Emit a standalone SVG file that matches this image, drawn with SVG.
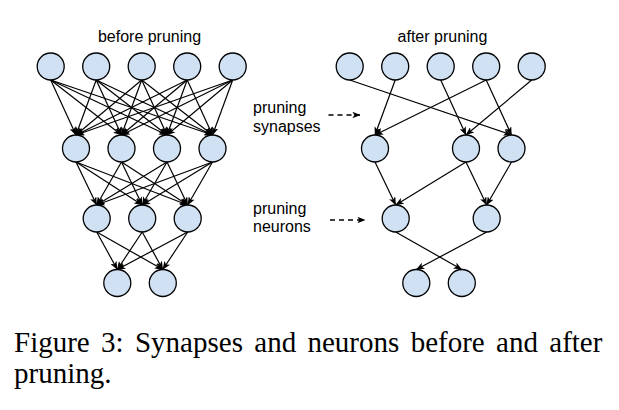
<svg xmlns="http://www.w3.org/2000/svg" width="619" height="410" viewBox="0 0 619 410">
<style>
.n{fill:#cfe1f3;stroke:#000;stroke-width:1.3}
.e{stroke:#000;stroke-width:1.2;fill:none;marker-end:url(#a)}
.d{stroke:#000;stroke-width:1.3;fill:none;stroke-dasharray:5 4;marker-end:url(#b)}
.t{font-family:"Liberation Sans",Arial,sans-serif;font-size:16px;fill:#000}
.c{font-family:"Liberation Serif","Times New Roman",serif;font-size:29px;fill:#000}
</style>
<defs>
<marker id="a" viewBox="0 0 10 8" refX="9.5" refY="4" markerWidth="8.5" markerHeight="6.8" orient="auto" markerUnits="userSpaceOnUse"><path d="M0,0 L10,4 L0,8 L2.5,4 z" fill="#000"/></marker>
<marker id="b" viewBox="0 0 10 8" refX="9.5" refY="4" markerWidth="8" markerHeight="6.4" orient="auto" markerUnits="userSpaceOnUse"><path d="M0,0 L10,4 L0,8 L2.5,4 z" fill="#000"/></marker>
</defs>
<text class="t" x="149.5" y="42" text-anchor="middle">before pruning</text>
<text class="t" x="442.5" y="42" text-anchor="middle">after pruning</text>
<text class="t" x="253" y="113">pruning</text>
<text class="t" x="253" y="131.5">synapses</text>
<text class="t" x="253" y="213.5">pruning</text>
<text class="t" x="253" y="231.5">neurons</text>
<g id="connectors">
<line class="d" x1="328.5" y1="115" x2="360" y2="115"/>
<line class="d" x1="330" y1="220" x2="365" y2="220"/>
<line class="e" x1="50.7" y1="80" x2="76" y2="135"/>
<line class="e" x1="50.7" y1="80" x2="121.5" y2="135"/>
<line class="e" x1="50.7" y1="80" x2="167" y2="135"/>
<line class="e" x1="50.7" y1="80" x2="212.5" y2="135"/>
<line class="e" x1="96.2" y1="80" x2="76" y2="135"/>
<line class="e" x1="96.2" y1="80" x2="121.5" y2="135"/>
<line class="e" x1="96.2" y1="80" x2="167" y2="135"/>
<line class="e" x1="96.2" y1="80" x2="212.5" y2="135"/>
<line class="e" x1="141.7" y1="80" x2="76" y2="135"/>
<line class="e" x1="141.7" y1="80" x2="121.5" y2="135"/>
<line class="e" x1="141.7" y1="80" x2="167" y2="135"/>
<line class="e" x1="141.7" y1="80" x2="212.5" y2="135"/>
<line class="e" x1="187.2" y1="80" x2="76" y2="135"/>
<line class="e" x1="187.2" y1="80" x2="121.5" y2="135"/>
<line class="e" x1="187.2" y1="80" x2="167" y2="135"/>
<line class="e" x1="187.2" y1="80" x2="212.5" y2="135"/>
<line class="e" x1="232.7" y1="80" x2="76" y2="135"/>
<line class="e" x1="232.7" y1="80" x2="121.5" y2="135"/>
<line class="e" x1="232.7" y1="80" x2="167" y2="135"/>
<line class="e" x1="232.7" y1="80" x2="212.5" y2="135"/>
<line class="e" x1="76" y1="162" x2="96.7" y2="205"/>
<line class="e" x1="76" y1="162" x2="142.2" y2="205"/>
<line class="e" x1="76" y1="162" x2="187.7" y2="205"/>
<line class="e" x1="121.5" y1="162" x2="96.7" y2="205"/>
<line class="e" x1="121.5" y1="162" x2="142.2" y2="205"/>
<line class="e" x1="121.5" y1="162" x2="187.7" y2="205"/>
<line class="e" x1="167" y1="162" x2="96.7" y2="205"/>
<line class="e" x1="167" y1="162" x2="142.2" y2="205"/>
<line class="e" x1="167" y1="162" x2="187.7" y2="205"/>
<line class="e" x1="212.5" y1="162" x2="96.7" y2="205"/>
<line class="e" x1="212.5" y1="162" x2="142.2" y2="205"/>
<line class="e" x1="212.5" y1="162" x2="187.7" y2="205"/>
<line class="e" x1="96.7" y1="232" x2="117.3" y2="269.5"/>
<line class="e" x1="96.7" y1="232" x2="162.8" y2="269.5"/>
<line class="e" x1="142.2" y1="232" x2="117.3" y2="269.5"/>
<line class="e" x1="142.2" y1="232" x2="162.8" y2="269.5"/>
<line class="e" x1="187.7" y1="232" x2="117.3" y2="269.5"/>
<line class="e" x1="187.7" y1="232" x2="162.8" y2="269.5"/>
<line class="e" x1="349.7" y1="80" x2="511.5" y2="135"/>
<line class="e" x1="395.2" y1="80" x2="375" y2="135"/>
<line class="e" x1="440.7" y1="80" x2="466" y2="135"/>
<line class="e" x1="486.2" y1="80" x2="375" y2="135"/>
<line class="e" x1="486.2" y1="80" x2="511.5" y2="135"/>
<line class="e" x1="531.7" y1="80" x2="466" y2="135"/>
<line class="e" x1="375" y1="162" x2="395.7" y2="205"/>
<line class="e" x1="466" y1="162" x2="395.7" y2="205"/>
<line class="e" x1="466" y1="162" x2="486.7" y2="205"/>
<line class="e" x1="511.5" y1="162" x2="486.7" y2="205"/>
<line class="e" x1="395.7" y1="232" x2="461.8" y2="269.5"/>
<line class="e" x1="486.7" y1="232" x2="416.3" y2="269.5"/>
</g>
<g id="before-l1-1"><circle class="n" cx="50.7" cy="66.5" r="13.5"/></g>
<g id="before-l1-2"><circle class="n" cx="96.2" cy="66.5" r="13.5"/></g>
<g id="before-l1-3"><circle class="n" cx="141.7" cy="66.5" r="13.5"/></g>
<g id="before-l1-4"><circle class="n" cx="187.2" cy="66.5" r="13.5"/></g>
<g id="before-l1-5"><circle class="n" cx="232.7" cy="66.5" r="13.5"/></g>
<g id="before-l2-1"><circle class="n" cx="76" cy="148.5" r="13.5"/></g>
<g id="before-l2-2"><circle class="n" cx="121.5" cy="148.5" r="13.5"/></g>
<g id="before-l2-3"><circle class="n" cx="167" cy="148.5" r="13.5"/></g>
<g id="before-l2-4"><circle class="n" cx="212.5" cy="148.5" r="13.5"/></g>
<g id="before-l3-1"><circle class="n" cx="96.7" cy="218.5" r="13.5"/></g>
<g id="before-l3-2"><circle class="n" cx="142.2" cy="218.5" r="13.5"/></g>
<g id="before-l3-3"><circle class="n" cx="187.7" cy="218.5" r="13.5"/></g>
<g id="before-l4-1"><circle class="n" cx="117.3" cy="283" r="13.5"/></g>
<g id="before-l4-2"><circle class="n" cx="162.8" cy="283" r="13.5"/></g>
<g id="after-l1-1"><circle class="n" cx="349.7" cy="66.5" r="13.5"/></g>
<g id="after-l1-2"><circle class="n" cx="395.2" cy="66.5" r="13.5"/></g>
<g id="after-l1-3"><circle class="n" cx="440.7" cy="66.5" r="13.5"/></g>
<g id="after-l1-4"><circle class="n" cx="486.2" cy="66.5" r="13.5"/></g>
<g id="after-l1-5"><circle class="n" cx="531.7" cy="66.5" r="13.5"/></g>
<g id="after-l2-1"><circle class="n" cx="375" cy="148.5" r="13.5"/></g>
<g id="after-l2-2"><circle class="n" cx="466" cy="148.5" r="13.5"/></g>
<g id="after-l2-3"><circle class="n" cx="511.5" cy="148.5" r="13.5"/></g>
<g id="after-l3-1"><circle class="n" cx="395.7" cy="218.5" r="13.5"/></g>
<g id="after-l3-2"><circle class="n" cx="486.7" cy="218.5" r="13.5"/></g>
<g id="after-l4-1"><circle class="n" cx="416.3" cy="283" r="13.5"/></g>
<g id="after-l4-2"><circle class="n" cx="461.8" cy="283" r="13.5"/></g>
<text class="c" x="14" y="351.7" word-spacing="4.1">Figure 3: Synapses and neurons before and after</text>
<text class="c" x="14" y="383.3">pruning.</text>
</svg>
